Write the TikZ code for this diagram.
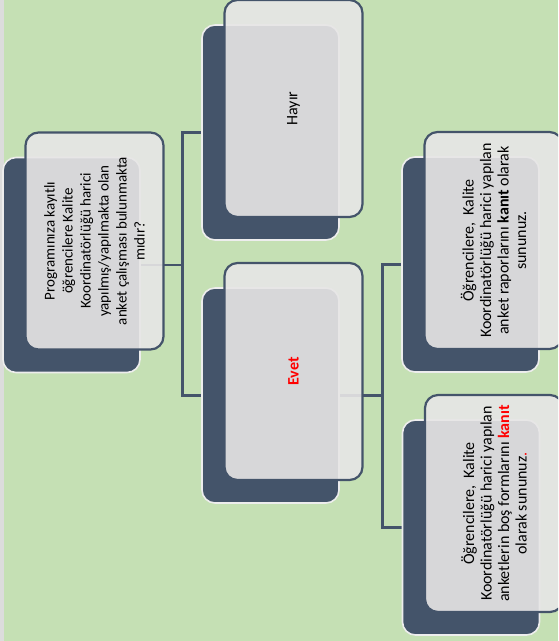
\documentclass[tikz,border=0pt]{standalone}
\usepackage{fontspec}
\setmainfont{Carlito}
\pgfdeclarelayer{back}
\pgfdeclarelayer{mid}
\pgfsetlayers{back,mid,main}
\definecolor{bgc}{HTML}{C5E0B4}
\definecolor{darkc}{HTML}{44546A}
\definecolor{lightc}{HTML}{E7E6E6}
\definecolor{rimc}{HTML}{EDEDED}
\definecolor{edgec}{HTML}{DCDCDC}
\definecolor{redc}{HTML}{FF0000}
\tikzset{
  darkbox/.style={rectangle, rounded corners=13pt, fill=darkc, draw=rimc, line width=1.6pt,
    minimum width=137pt, minimum height=215pt, inner sep=0pt},
  lightbox/.style={rectangle, rounded corners=13pt, fill=lightc, fill opacity=0.9, draw=darkc,
    line width=2.2pt, minimum width=138pt, minimum height=217pt, inner sep=0pt},
  boxtext/.style={rotate=90, align=center, inner sep=0pt, text=black},
  conn/.style={draw=darkc, line width=2.4pt},
}
\begin{document}
\begin{tikzpicture}[x=1pt,y=-1pt]
\useasboundingbox (0,0) rectangle (558,641);
\clip (0,0) rectangle (558,641);
\begin{pgfonlayer}{back}
  \fill[bgc] (0,0) rectangle (558,641);
  \fill[edgec] (0,0) rectangle (3.5,641);
\end{pgfonlayer}

% root
\node[darkbox] (rootd) at (71.5,265) {};
\node[lightbox] (rootl) at (94.5,241) {};
\node[boxtext, font=\fontsize{15}{18}\selectfont] (roott) at (rootl.center)
  {Programınıza kayıtlı\\öğrencilere Kalite\\Koordinatörlüğü harici\\yapılmış/yapılmakta olan\\anket çalışması bulunmakta\\mıdır?};

% Hayır
\node[darkbox] (hayd) at (270.5,132.5) {};
\node[lightbox] (hayl) at (293.5,108.5) {};
\node[boxtext, font=\fontsize{16}{19}\selectfont] (hayt) at (hayl.center) {Hayır};

% Evet
\node[darkbox] (evetd) at (270.5,395.5) {};
\node[lightbox] (evetl) at (293.5,371.5) {};
\node[boxtext, font=\fontsize{16}{19}\selectfont\bfseries, text=redc] (evett) at (evetl.center) {Evet};

% right top
\node[darkbox] (r1d) at (470.5,264.5) {};
\node[lightbox] (r1l) at (493.5,240.5) {};
\node[boxtext, font=\fontsize{16}{17.5}\selectfont] (r1t) at (r1l.center)
  {Öğrencilere,~ Kalite\\Koordinatörlüğü harici yapılan\\anket raporlarını \textbf{kanıt} olarak\\sununuz.};

% right bottom
\node[darkbox] (r2d) at (471,527.5) {};
\node[lightbox] (r2l) at (494,503.5) {};
\node[boxtext, font=\fontsize{16}{17.5}\selectfont] (r2t) at (r2l.center)
  {Öğrencilere,~ Kalite\\Koordinatörlüğü harici yapılan\\anketlerin boş formlarını \textcolor{redc}{\textbf{kanıt}}\\olarak sununuz\textcolor{redc}{.}};

\coordinate (j1) at (182.5,265);
\coordinate (j2) at (382.5,395.5);
\begin{pgfonlayer}{mid}
  \draw[conn] (rootd.center) -- (j1);
  \draw[conn] (j1) |- (hayd.center);
  \draw[conn] (j1) |- (evetd.center);
  \draw[conn] (evetd.center) -- (j2);
  \draw[conn] (j2) |- (r1d.center);
  \draw[conn] (j2) |- (r2d.center);
\end{pgfonlayer}
\end{tikzpicture}
\end{document}
